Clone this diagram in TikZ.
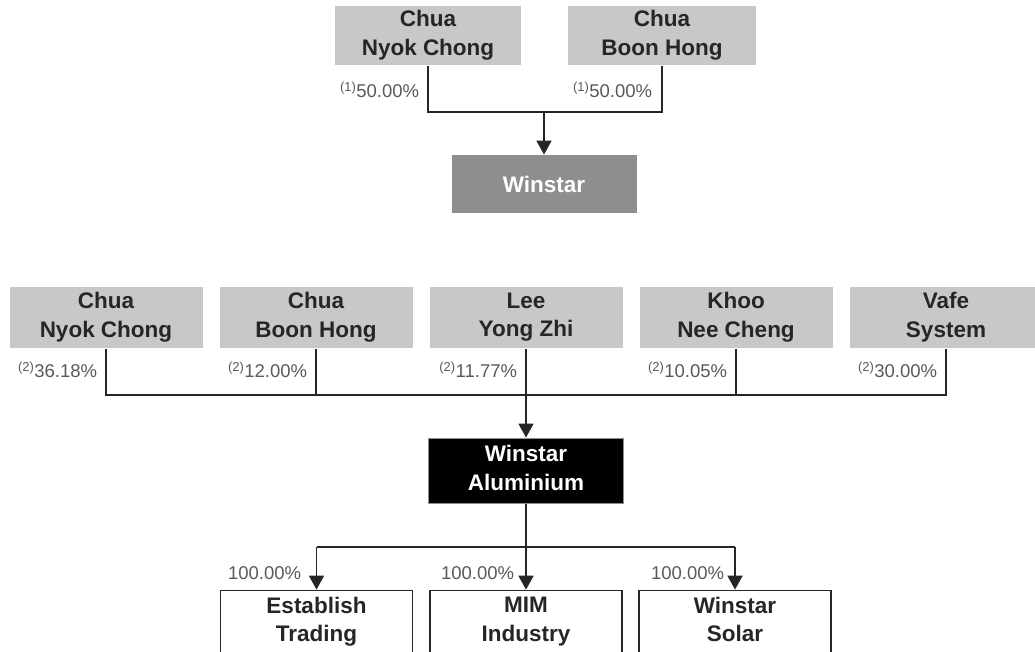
\documentclass[tikz,border=0pt]{standalone}
\usepackage{fontspec}
\setmainfont{Liberation Sans}
\usetikzlibrary{arrows.meta}

\definecolor{ownergray}{HTML}{C8C8C8}
\definecolor{holdgray}{HTML}{8E8E8E}
\definecolor{inkgray}{HTML}{262626}
\definecolor{pctgray}{HTML}{5A5A5A}

\begin{document}
\begin{tikzpicture}[x=1pt,y=-1pt,>={Triangle[length=14pt,width=15pt]},
  line width=1.8pt,draw=inkgray,
  boxtext/.style={inner sep=0pt,align=center,
    execute at begin node={\rule{0pt}{21pt}},
    execute at end node={\rule[-5pt]{0pt}{5pt}},
    font=\fontsize{22.5}{28.5}\selectfont\bfseries},
  owner/.style={boxtext,fill=ownergray,text=inkgray},
  holding/.style={boxtext,fill=holdgray,text=white},
  company/.style={boxtext,fill=black,draw=holdgray,line width=1pt,text=white},
  subsid/.style={boxtext,fill=white,draw=inkgray,text=inkgray,
    minimum width=192pt,minimum height=63pt},
  pct/.style={text=pctgray,inner sep=0pt,anchor=east,font=\fontsize{18.5}{20}\selectfont}]

\clip (0,0) rectangle (1035,652);
\fill[white] (0,0) rectangle (1035,652);

% Winstar and its owners
\node[owner,minimum width=186pt,minimum height=59pt] (cnc1) at (428,35.5) {Chua\\Nyok Chong};
\node[owner,minimum width=188pt,minimum height=59pt] (cbh1) at (662,35.5) {Chua\\Boon Hong};
\node[holding,minimum width=185pt,minimum height=58pt] (winstar) at (544,184.5) {Winstar};

\node[pct] (cnc1-pct) at (420,90) {\textsuperscript{(1)}50.00\%};
\node[pct] (cbh1-pct) at (653,90) {\textsuperscript{(1)}50.00\%};

\coordinate (join) at (544,112);
\draw (cnc1.south) |- (join) -| (cbh1.south);
\draw[->] (join) -- (winstar.north);

% Winstar Aluminium and its owners
\foreach \name/\who/\share [count=\i from 0] in
  {cnc2/Chua\\Nyok Chong/36.18, cbh2/Chua\\Boon Hong/12.00, lyz/Lee\\Yong Zhi/11.77,
   knc/Khoo\\Nee Cheng/10.05, vafe/Vafe\\System/30.00}
{
  \node[owner,minimum width=193pt,minimum height=61pt] (\name) at ({106+210*\i},317.5) {\who};
  \node[pct] (\name-pct) at ({98+210*\i},370) {\textsuperscript{(2)}\share\%};
}

\node[company,minimum width=195pt,minimum height=65pt] (wa) at (526,470.5) {Winstar\\Aluminium};

\coordinate (bus) at (526,395);
\draw (cnc2.south) |- (bus) -| (vafe.south);
\draw (cbh2.south) -- (cbh2.south |- bus);
\draw (knc.south) -- (knc.south |- bus);
\draw[->] (lyz.south) -- (wa.north);

% subsidiaries
\node[subsid] (est) at (316.5,622) {Establish\\Trading};
\node[subsid] (mim) at (526,622) {MIM\\Industry};
\node[subsid] (sol) at (735,622) {Winstar\\Solar};

\coordinate (split) at (526,547);
\draw (est.north |- split) -- (sol.north |- split);
\draw[->] (est.north |- split) -- (est.north);
\draw[->] (wa.south) -- (mim.north);
\draw[->] (sol.north |- split) -- (sol.north);

\node[pct] (est-pct) at (302,573) {100.00\%};
\node[pct] (mim-pct) at (515,573) {100.00\%};
\node[pct] (sol-pct) at (725,573) {100.00\%};

\end{tikzpicture}
\end{document}
